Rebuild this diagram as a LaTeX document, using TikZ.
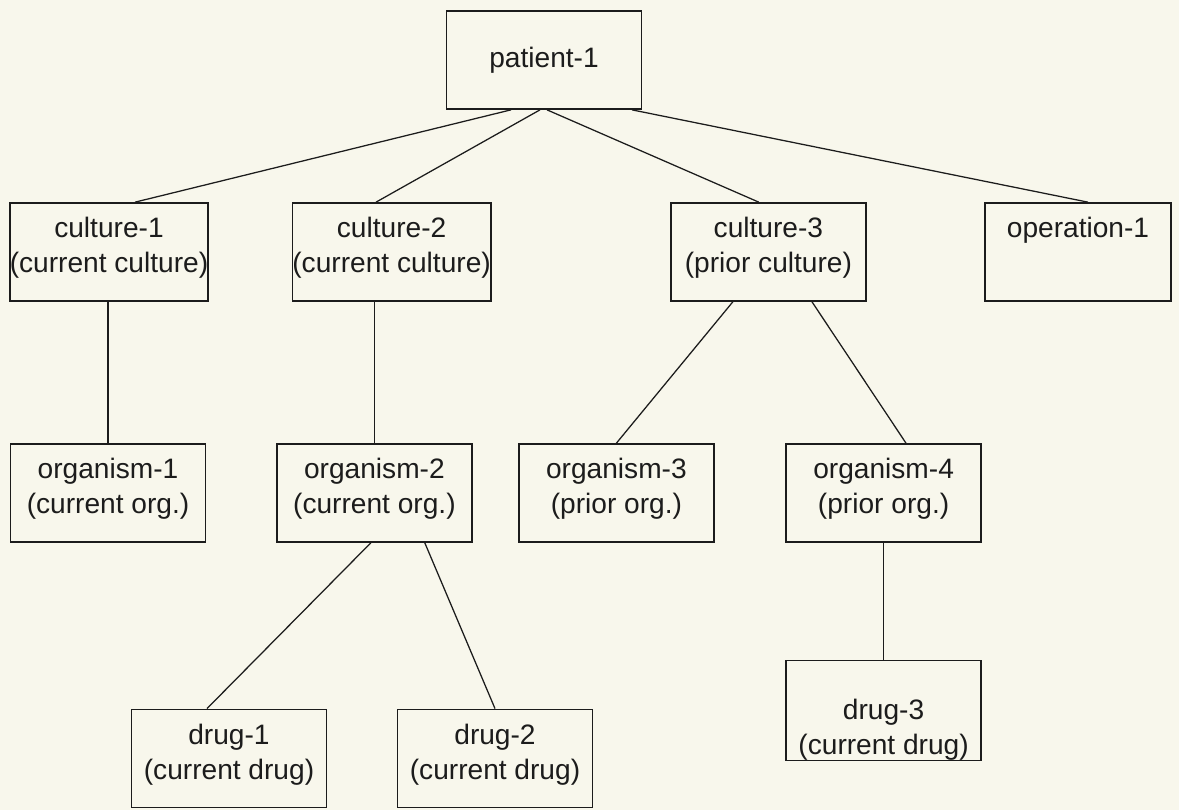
\documentclass[tikz,border=0pt]{standalone}
\usepackage{fontspec}
\setmainfont{Liberation Sans}
\usepackage{tikz}
\usetikzlibrary{positioning}
\definecolor{paper}{RGB}{248,247,236}
\definecolor{ink}{RGB}{28,28,28}

\begin{document}
\begin{tikzpicture}[
  entity/.style={
    rectangle, draw=ink, line width=1.2pt,
    minimum width=4.875cm, minimum height=2.45cm,
    inner xsep=0pt, inner ysep=0pt, align=center, text=ink,
    font=\fontsize{20}{25}\selectfont
  },
  twoline/.style={entity, execute at end node={\rule[-10pt]{0pt}{0pt}}},
  link/.style={draw=ink, line width=0.9pt}
]
% Fond
\fill[paper] (0,0) rectangle (29.475,-20.25);
\useasboundingbox (0,0) rectangle (29.475,-20.25);

% Noeuds
\node[entity] (patient) at (13.6, -1.5)   {patient-1};

\node[twoline] (cult1) at (2.725, -6.3)  {culture-1\\(current culture)};
\node[twoline] (cult2) at (9.79, -6.3)   {culture-2\\(current culture)};
\node[twoline] (cult3) at (19.21, -6.3)  {culture-3\\(prior culture)};
\node[twoline, minimum width=4.65cm] (oper1) at (26.95, -6.3) {operation-1\\\strut};

\node[twoline] (org1) at (2.7, -12.325)   {organism-1\\(current org.)};
\node[twoline] (org2) at (9.36, -12.325)  {organism-2\\(current org.)};
\node[twoline] (org3) at (15.41, -12.325) {organism-3\\(prior org.)};
\node[twoline] (org4) at (22.09, -12.325) {organism-4\\(prior org.)};

\node[twoline] (drug1) at (5.725, -18.96)  {drug-1\\(current drug)};
\node[twoline] (drug2) at (12.375, -18.96) {drug-2\\(current drug)};
\node[entity]  (drug3) at (22.09, -17.76)  {\rule{0pt}{42pt}drug-3\\(current drug)};

% Liens
\draw[link] ([xshift=-0.825cm]patient.south) -- ([xshift=0.65cm]cult1.north);
\draw[link] ([xshift=-0.1cm]patient.south)   -- ([xshift=-0.39cm]cult2.north);
\draw[link] ([xshift=0.075cm]patient.south)  -- ([xshift=-0.24cm]cult3.north);
\draw[link] ([xshift=2.2cm]patient.south)    -- ([xshift=0.25cm]oper1.north);

\draw[link] (org1.north) -- (org1.north |- cult1.south);
\draw[link] (org2.north) -- (org2.north |- cult2.south);
\draw[link] ([xshift=-0.89cm]cult3.south) -- (org3.north);
\draw[link] ([xshift=1.09cm]cult3.south)  -- ([xshift=0.56cm]org4.north);

\draw[link] ([xshift=-0.09cm]org2.south) -- ([xshift=-0.55cm]drug1.north);
\draw[link] ([xshift=1.26cm]org2.south)  -- (drug2.north);
\draw[link] (org4.south) -- (drug3.north);

\end{tikzpicture}
\end{document}
